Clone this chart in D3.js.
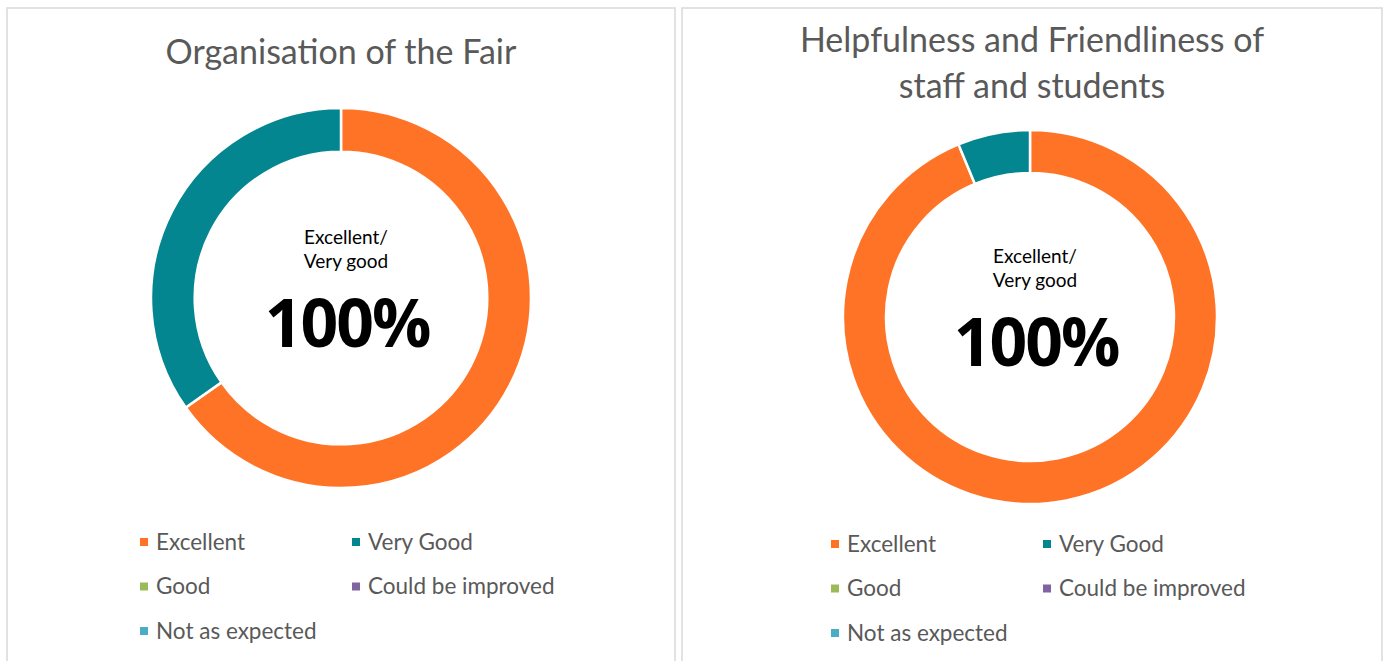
<!DOCTYPE html>
<html>
<head>
<meta charset="utf-8">
<script src="https://cdn.jsdelivr.net/npm/d3@7"></script>
<style>
  body { margin: 0; background: #fff; }
  svg { display: block; font-family: Lato, "Open Sans", sans-serif; }
</style>
</head>
<body>
<svg id="chart" width="1383" height="661"></svg>
<script>
// data
const categories = ['Excellent', 'Very Good', 'Good', 'Could be improved', 'Not as expected'];
const categoryColors = ['#FF7327', '#03868F', '#9BBB59', '#8064A2', '#4BACC6'];
const organisationValues = [15, 8, 0, 0, 0];
const helpfulnessValues = [15, 1, 0, 0, 0];
const organisationTitle = ['Organisation of the Fair'];
const helpfulnessTitle = ['Helpfulness and Friendliness of', 'staff and students'];
const centreLabel = ['Excellent/', 'Very good'];
const centreValue = '100%';

// layout (not data)
const panels = [
  { x0: 7, x1: 675, cx: 341, cy: 298, r: 190, titleY: 64, legendY: 542, values: organisationValues, title: organisationTitle },
  { x0: 682, x1: 1382, cx: 1030, cy: 317, r: 187, titleY: 52, legendY: 544, values: helpfulnessValues, title: helpfulnessTitle }
];

const svg = d3.select('#chart');

const colorScale = d3.scaleOrdinal()
  .domain(categories)
  .range(categoryColors);

const pie = d3.pie()
  .sort(null)
  .value(d => d.value);

panels.forEach(p => {
  const g = svg.append('g');

  // panel border (open at the bottom)
  g.append('path')
    .attr('d', `M${p.x0},661 V8 H${p.x1} V661`)
    .attr('fill', 'none')
    .attr('stroke', '#D9D9D9')
    .attr('stroke-width', 1.5);

  const midX = (p.x0 + p.x1) / 2;

  // title
  g.append('text')
    .attr('text-anchor', 'middle')
    .attr('fill', '#595959')
    .style('font-size', '34px')
    .selectAll('tspan')
    .data(p.title)
    .join('tspan')
    .attr('x', midX)
    .attr('y', (d, i) => p.titleY + i * 46)
    .text(d => d);

  // donut
  const arc = d3.arc()
    .innerRadius(p.r * 0.77)
    .outerRadius(p.r);

  const rows = categories.map((c, i) => ({ name: c, value: p.values[i] }));

  const donut = g.append('g')
    .attr('transform', `translate(${p.cx},${p.cy})`);

  donut.selectAll('path')
    .data(pie(rows).filter(d => d.value > 0))
    .join('path')
    .attr('d', arc)
    .attr('fill', d => colorScale(d.data.name))
    .attr('stroke', '#fff')
    .attr('stroke-width', 2.5);

  // centre text
  donut.append('text')
    .attr('text-anchor', 'middle')
    .attr('fill', '#000')
    .style('font-size', '19px')
    .selectAll('tspan')
    .data(centreLabel)
    .join('tspan')
    .attr('x', 5)
    .attr('y', (d, i) => -54 + i * 24)
    .text(d => d);

  donut.append('text')
    .attr('text-anchor', 'middle')
    .attr('x', 6)
    .attr('y', 49)
    .attr('fill', '#000')
    .style('font-family', '"Open Sans", sans-serif')
    .style('font-size', '66px')
    .style('font-weight', 700)
    .style('letter-spacing', '-2px')
    .text(centreValue);

  // legend
  const legend = g.append('g')
    .attr('transform', `translate(${midX},${p.legendY})`);

  const item = legend.selectAll('g')
    .data(categories)
    .join('g')
    .attr('transform', (d, i) => `translate(${i % 2 === 0 ? -201 : 11},${Math.floor(i / 2) * 44.5})`);

  item.append('rect')
    .attr('x', 0)
    .attr('y', -4)
    .attr('width', 8)
    .attr('height', 8)
    .attr('fill', d => colorScale(d));

  item.append('text')
    .attr('x', 16)
    .attr('dy', '0.35em')
    .attr('fill', '#595959')
    .style('font-size', '22.5px')
    .text(d => d);
});
</script>
</body>
</html>
